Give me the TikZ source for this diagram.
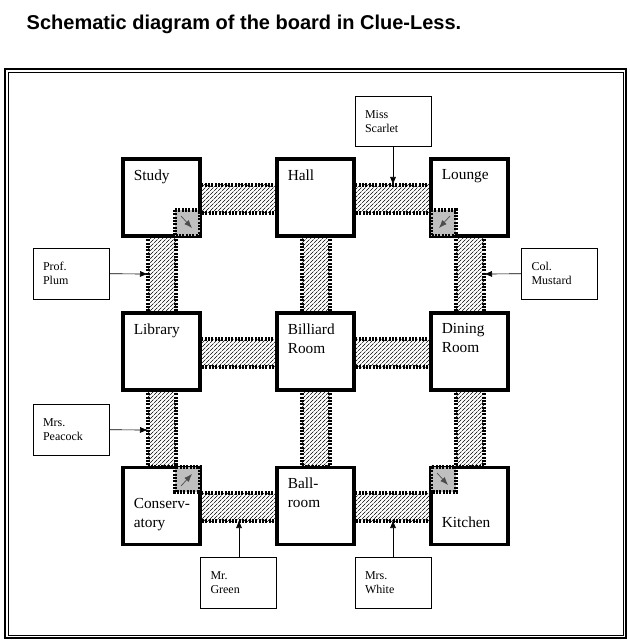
\documentclass[tikz,border=0pt]{standalone}
\usepackage{fontspec}
\setmainfont{Liberation Serif}
\newfontfamily\arial{Liberation Sans}
\usetikzlibrary{patterns,arrows.meta}
\begin{document}
\begin{tikzpicture}[x=0.75pt,y=-0.75pt,
  room/.style={draw,line width=2.8pt,fill=white,minimum width=57.75pt,minimum height=57.75pt,inner sep=0pt},
  hallway/.style={draw,line width=2.6pt,dash pattern=on 1.6pt off 0.9pt,pattern=north east lines},
  secret/.style={draw,line width=2.4pt,dash pattern=on 1.6pt off 0.9pt,fill=gray!50},
  who/.style={draw,line width=0.5pt,minimum width=57pt,minimum height=38pt,text width=42pt,inner xsep=7.5pt,inner ysep=0pt,font=\fontsize{9}{10.5}\selectfont,align=left},
  rl/.style={font=\fontsize{11.5}{14}\selectfont,align=left,anchor=north west},
  arr/.style={-{Latex[length=6pt,width=4.5pt]},line width=0.5pt}]
\useasboundingbox (0,0) rectangle (629,641);
\node[anchor=west,font=\arial\bfseries\fontsize{15}{17}\selectfont] (title) at (22,24) {Schematic diagram of the board in Clue-Less.};
\draw[line width=1pt] (5,69) rectangle (626,638);
\draw[line width=0.5pt] (8,72) rectangle (623,635);
% hallways
\foreach \x in {200,354}{\foreach \y in {185,339,493}{\draw[hallway] (\x,\y) rectangle (\x+77,\y+28);}}
\foreach \x in {148,302,456}{\foreach \y in {236,390}{\draw[hallway] (\x,\y) rectangle (\x+28,\y+77);}}
% rooms
\node[room] (study) at (161.5,197.5) {};
\node[room] (hall) at (315.5,197.5) {};
\node[room] (lounge) at (469.5,197.5) {};
\node[room] (library) at (161.5,351.5) {};
\node[room] (billiard) at (315.5,351.5) {};
\node[room] (dining) at (469.5,351.5) {};
\node[room] (conserv) at (161.5,506) {};
\node[room] (ball) at (315.5,506) {};
\node[room] (kitchen) at (469.5,506) {};
\node[rl] (lstudy) at (study.north west) [xshift=6pt,yshift=-6pt] {Study};
\node[rl] (lhall) at (hall.north west) [xshift=6pt,yshift=-6pt] {Hall};
\node[rl] (llounge) at (lounge.north west) [xshift=6pt,yshift=-6pt] {Lounge};
\node[rl] (llib) at (library.north west) [xshift=6pt,yshift=-6pt] {Library};
\node[rl] (lbil) at (billiard.north west) [xshift=6pt,yshift=-6pt] {Billiard\\Room};
\node[rl] (ldin) at (dining.north west) [xshift=6pt,yshift=-6pt] {Dining\\Room};
\node[rl] (lcon) at (conserv.north west) [xshift=6pt,yshift=-21pt] {Conserv-\\atory};
\node[rl] (lball) at (ball.north west) [xshift=6pt,yshift=-6pt] {Ball-\\room};
\node[rl] (lkit) at (kitchen.north west) [xshift=6pt,yshift=-35pt] {Kitchen};
% secret passages
\draw[secret] (175,210) rectangle (200,236);
\draw[secret] (431,210) rectangle (456,236);
\draw[secret] (175,467) rectangle (200,492);
\draw[secret] (431,467) rectangle (456,492);
\coordinate (s1a) at (181,216); \coordinate (s1b) at (192,228);
\coordinate (s2a) at (450,216); \coordinate (s2b) at (439,228);
\coordinate (s3a) at (181,486); \coordinate (s3b) at (192,474);
\coordinate (s4a) at (437,473); \coordinate (s4b) at (448,485);
\draw[arr,draw=black!70] (s1a) -- (s1b);
\draw[arr,draw=black!70] (s2a) -- (s2b);
\draw[arr,draw=black!70] (s3a) -- (s3b);
\draw[arr,draw=black!70] (s4a) -- (s4b);
% characters
\node[who,fill=white] (scarlet) at (393,121.5) {Miss\\Scarlet};
\node[who] (plum) at (71,273.5) {Prof.\\Plum};
\node[who] (mustard) at (559.5,273.5) {Col.\\Mustard};
\node[who] (peacock) at (71,429.5) {Mrs.\\Peacock};
\node[who] (green) at (238.5,582.5) {Mr.\\Green};
\node[who] (white) at (393,582.5) {Mrs.\\White};
\coordinate (tscarlet) at (393,185);
\coordinate (tplum) at (148,274);
\coordinate (tmustard) at (484,274);
\coordinate (tpeacock) at (148,430);
\coordinate (tgreen) at (239,520);
\coordinate (twhite) at (393,520);
\draw[arr] (scarlet) -- (tscarlet);
\draw[arr] (plum) -- (tplum);
\draw[arr] (mustard) -- (tmustard);
\draw[arr] (peacock) -- (tpeacock);
\draw[arr] (green.north -| tgreen) -- (tgreen);
\draw[arr] (white) -- (twhite);
\end{tikzpicture}
\end{document}
